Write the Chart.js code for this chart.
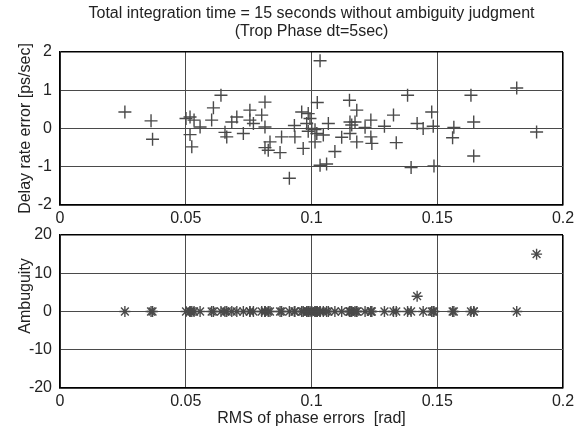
<!DOCTYPE html>
<html>
<head>
<meta charset="utf-8">
<script src="https://cdn.jsdelivr.net/npm/chart.js@4"></script>
<style>
  html, body { margin: 0; padding: 0; background: #fff; }
  #wrap { position: relative; width: 579px; height: 434px; }
  #wrap canvas { position: absolute; left: 0; }
</style>
</head>
<body>
<div id="wrap">
  <canvas id="top" width="579" height="230" style="top:0"></canvas>
  <canvas id="bottom" width="579" height="219" style="top:215px"></canvas>
</div>
<script>
// RMS of phase errors [rad], one entry per scan
const rmsPhase = [
  0.0258, 0.0362, 0.0368, 0.0501, 0.0517, 0.0517, 0.0524, 0.0533, 0.0557, 0.0603,
  0.0610, 0.0640, 0.0656, 0.0663, 0.0683, 0.0703, 0.0729, 0.0755, 0.0755, 0.0769,
  0.0802, 0.0815, 0.0815, 0.0815, 0.0828, 0.0835, 0.0875, 0.0881, 0.0912, 0.0932,
  0.0934, 0.0961, 0.0967, 0.0981, 0.0987, 0.0987, 0.0994, 0.1001, 0.1014, 0.1014,
  0.1021, 0.1023, 0.1034, 0.1034, 0.1047, 0.1060, 0.1067, 0.1093, 0.1120, 0.1151,
  0.1153, 0.1153, 0.1160, 0.1173, 0.1180, 0.1180, 0.1213, 0.1236, 0.1236, 0.1240,
  0.1290, 0.1326, 0.1337, 0.1382, 0.1396, 0.1420, 0.1444, 0.1478, 0.1484, 0.1487,
  0.1561, 0.1566, 0.1634, 0.1645, 0.1645, 0.1816, 0.1895
];
// delay rate error [ps/sec]
const delayRate = [
  0.43, 0.20, -0.28, 0.26, 0.30, -0.16, -0.48, 0.22, 0.04, 0.22,
  0.54, 0.87, -0.10, -0.22, 0.17, 0.30, -0.13, 0.48, 0.22, 0.13,
  0.35, 0.69, 0.04, -0.50, -0.57, -0.35, -0.63, -0.22, -1.30, 0.08,
  -0.22, 0.43, -0.52, 0.13, 0.39, -0.07, 0.26, 0.00, -0.03, -0.35,
  -0.13, 0.68, 1.77, -0.96, -0.17, -0.93, 0.13, -0.60, -0.23, 0.74,
  0.17, -0.13, 0.09, 0.17, 0.48, -0.35, 0.03, 0.22, -0.22, -0.39,
  0.06, 0.35, -0.37, 0.87, -1.02, 0.13, 0.00, 0.43, 0.06, -0.98,
  -0.24, 0.03, 0.87, 0.17, -0.72, 1.06, -0.09
];
// ambiguity (cycles)
const ambiguity = [
  0, 0, 0, 0, 0, 0, 0, 0, 0, 0,
  0, 0, 0, 0, 0, 0, 0, 0, 0, 0,
  0, 0, 0, 0, 0, 0, 0, 0, 0, 0,
  0, 0, 0, 0, 0, 0, 0, 0, 0, 0,
  0, 0, 0, 0, 0, 0, 0, 0, 0, 0,
  0, 0, 0, 0, 0, 0, 0, 0, 0, 0,
  0, 0, 0, 0, 0, 4, 0, 0, 0, 0,
  0, 0, 0, 0, 0, 0, 15
];
const xTicks = [0, 0.05, 0.1, 0.15, 0.2];
const topTicks = [-2, -1, 0, 1, 2];
const bottomTicks = [-20, -10, 0, 10, 20];

const titleLines = [
  "Total integration time = 15 seconds without ambiguity judgment",
  "(Trop Phase dt=5sec)"
];

const FONT = "'Liberation Sans', Arial, sans-serif";
const TEXT = "#222";
const GRID = "#4a4a4a";
const MARK = "#4a4a4a";

Chart.defaults.font.family = FONT;
Chart.defaults.font.size = 16;
Chart.defaults.color = TEXT;

const fmt = (v) => String(+(+v).toFixed(3));

// grid: edges black like the axes box, inner lines gray
const gridOpts = (lo, hi) => ({
  drawTicks: false,
  color: (c) => (c.tick && (c.tick.value === lo || c.tick.value === hi) ? "#000" : GRID),
  lineWidth: (c) => (c.tick && (c.tick.value === lo || c.tick.value === hi) ? 1.6 : 1),
});

const xScale = (height, title) => ({
  type: "linear",
  min: 0,
  max: 0.2,
  afterBuildTicks: (s) => { s.ticks = xTicks.map((v) => ({ value: v })); },
  afterFit: (s) => { s.height = height; },
  ticks: { callback: fmt, padding: 4, autoSkip: false, maxRotation: 0 },
  grid: gridOpts(0, 0.2),
  border: { color: "#000", width: 1.6 },
  title: title
    ? { display: true, text: title, padding: { top: 0, bottom: 6 } }
    : { display: false },
});

const yScale = (ticks, title) => ({
  type: "linear",
  min: ticks[0],
  max: ticks[ticks.length - 1],
  afterBuildTicks: (s) => { s.ticks = ticks.map((v) => ({ value: v })); },
  afterFit: (s) => { s.width = 60; },
  ticks: { callback: fmt, padding: 8 },
  grid: gridOpts(ticks[0], ticks[ticks.length - 1]),
  border: { color: "#000", width: 1.6 },
  title: { display: true, text: title, padding: { top: 16, bottom: 0 } },
});

new Chart(document.getElementById("top"), {
  type: "scatter",
  data: {
    datasets: [{
      data: rmsPhase.map((x, i) => ({ x: x, y: delayRate[i] })),
      pointStyle: "cross",
      pointRadius: 6.5,
      pointHoverRadius: 6.5,
      borderColor: MARK,
      backgroundColor: MARK,
      borderWidth: 1.4,
    }],
  },
  options: {
    responsive: false,
    animation: false,
    layout: { padding: { left: 0, right: 16, top: 0, bottom: 0 } },
    scales: {
      x: xScale(25, null),
      y: yScale(topTicks, "Delay rate error [ps/sec]"),
    },
    plugins: {
      legend: { display: false },
      tooltip: { enabled: false },
      title: {
        display: true,
        fullSize: false,
        text: titleLines,
        font: { size: 16, weight: "normal", lineHeight: 1.1 },
        color: TEXT,
        padding: { top: 5, bottom: 11.8 },
      },
    },
  },
});

new Chart(document.getElementById("bottom"), {
  type: "scatter",
  data: {
    datasets: [{
      data: rmsPhase.map((x, i) => ({ x: x, y: ambiguity[i] })),
      pointStyle: "star",
      pointRadius: 5.5,
      pointHoverRadius: 5.5,
      borderColor: MARK,
      backgroundColor: MARK,
      borderWidth: 1.4,
    }],
  },
  options: {
    responsive: false,
    animation: false,
    layout: { padding: { left: 0, right: 16, top: 20, bottom: 0 } },
    scales: {
      x: xScale(46, "RMS of phase errors  [rad]"),
      // label sits above the axis centre in the original
      y: yScale(bottomTicks, "       Ambuguity"),
    },
    plugins: {
      legend: { display: false },
      tooltip: { enabled: false },
    },
  },
});
</script>
</body>
</html>
